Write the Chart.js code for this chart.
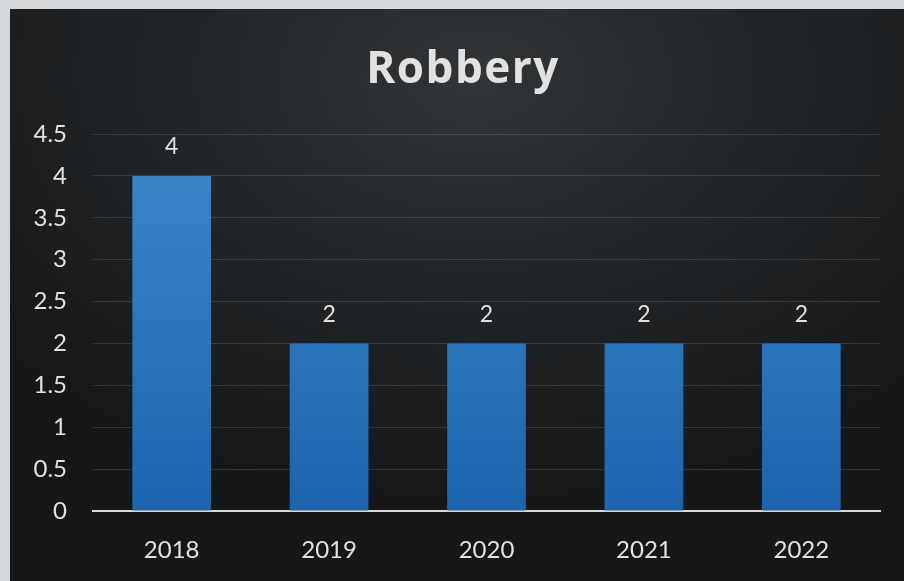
<!DOCTYPE html>
<html>
<head>
<meta charset="utf-8">
<script src="https://cdn.jsdelivr.net/npm/chart.js@4"></script>
<style>
  html, body { margin: 0; padding: 0; }
  body { width: 904px; height: 581px; background: #d5d8da; position: relative; overflow: hidden; }
  #panel {
    position: absolute; left: 10px; top: 9px; width: 894px; height: 572px;
    background: radial-gradient(ellipse 70% 75% at 52% 12%, #323538 0%, #232628 45%, #161719 100%);
  }
  #chart { display: block; }
</style>
</head>
<body>
<div id="panel"><canvas id="chart" width="894" height="572"></canvas></div>
<script>
const years = ['2018', '2019', '2020', '2021', '2022'];
const robberies = [4, 2, 2, 2, 2];
const yMax = 4.5;
const yStep = 0.5;
const chartTitle = 'Robbery';

const textColor = '#e2e2e2';
const fontFamily = 'Lato, "Open Sans", sans-serif';

// Heading centred across the whole panel
const heading = {
  id: 'heading',
  afterDraw(chart) {
    const ctx = chart.ctx;
    ctx.save();
    ctx.fillStyle = textColor;
    ctx.font = 'bold 44px "Open Sans", Lato, sans-serif';
    if ('letterSpacing' in ctx) ctx.letterSpacing = '1.5px';
    ctx.textAlign = 'center';
    ctx.textBaseline = 'middle';
    ctx.fillText(chartTitle, 453, 61);
    ctx.restore();
  }
};

// Writes each bar's value just above it
const valueLabels = {
  id: 'valueLabels',
  afterDatasetsDraw(chart) {
    const ctx = chart.ctx;
    ctx.save();
    ctx.fillStyle = textColor;
    ctx.font = '23px ' + fontFamily;
    ctx.textAlign = 'center';
    ctx.textBaseline = 'middle';
    chart.getDatasetMeta(0).data.forEach((bar, i) => {
      ctx.fillText(String(chart.data.datasets[0].data[i]), bar.x, bar.y - 29);
    });
    ctx.restore();
  }
};

function barGradient(context) {
  const area = context.chart.chartArea;
  if (!area) return '#2a74bd';
  const g = context.chart.ctx.createLinearGradient(0, area.top, 0, area.bottom);
  g.addColorStop(0, '#3d89cb');
  g.addColorStop(1, '#1c64ae');
  return g;
}

new Chart(document.getElementById('chart'), {
  type: 'bar',
  data: {
    labels: years,
    datasets: [{
      data: robberies,
      backgroundColor: barGradient,
      borderWidth: 0,
      categoryPercentage: 1.0,
      barPercentage: 0.5
    }]
  },
  options: {
    responsive: false,
    animation: false,
    layout: { padding: { left: 0, right: 24, top: 125, bottom: 0 } },
    plugins: {
      legend: { display: false },
      tooltip: { enabled: false },
      title: { display: false }
    },
    scales: {
      x: {
        grid: { display: false, drawTicks: false },
        border: { display: true, color: '#d9d9d9', width: 2 },
        ticks: { color: textColor, font: { family: fontFamily, size: 24 }, padding: 25 },
        afterFit(scale) { scale.height = 70; }
      },
      y: {
        min: 0,
        max: yMax,
        grid: { color: 'rgba(255,255,255,0.13)', lineWidth: 1, drawTicks: false },
        border: { display: false },
        ticks: {
          stepSize: yStep,
          color: textColor,
          font: { family: fontFamily, size: 24 },
          padding: 26,
          callback: (v) => String(v)
        },
        afterFit(scale) { scale.width = 83; }
      }
    }
  },
  plugins: [valueLabels, heading]
});
</script>
</body>
</html>
